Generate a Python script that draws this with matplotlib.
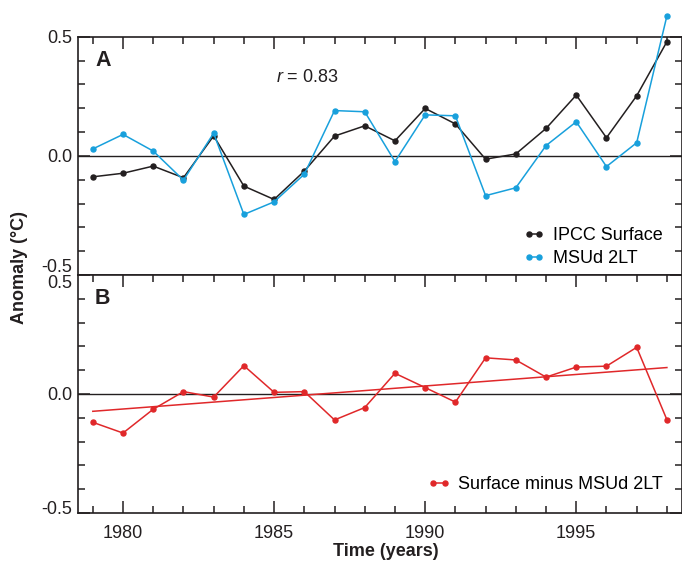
#!/usr/bin/env python3
# Surface vs MSUd 2LT temperature anomalies, 1979-1998 (two stacked panels)

import numpy as np
import matplotlib
matplotlib.use("Agg")
import matplotlib.pyplot as plt
from matplotlib.ticker import MultipleLocator
from matplotlib.transforms import blended_transform_factory, offset_copy

plt.rcParams['font.family'] = ['Liberation Sans', 'DejaVu Sans']
plt.rcParams['mathtext.fontset'] = 'custom'
plt.rcParams['mathtext.rm'] = 'Liberation Sans'
plt.rcParams['mathtext.it'] = 'Liberation Sans:italic'

## data
years = list(range(1979, 1999))
ipcc_surface = [-0.088, -0.073, -0.043, -0.092, 0.084, -0.127, -0.183, -0.064, 0.083, 0.126,
                0.063, 0.199, 0.134, -0.014, 0.008, 0.115, 0.255, 0.076, 0.252, 0.479]
msud_2lt = [0.029, 0.090, 0.020, -0.102, 0.095, -0.246, -0.193, -0.077, 0.190, 0.185,
            -0.024, 0.172, 0.168, -0.167, -0.134, 0.043, 0.143, -0.045, 0.055, 0.587]
surface_minus_msu = [-0.119, -0.164, -0.064, 0.010, -0.013, 0.119, 0.007, 0.010, -0.109, -0.057,
                     0.087, 0.027, -0.034, 0.152, 0.143, 0.071, 0.113, 0.117, 0.196, -0.108]
x_ticks = [1980, 1985, 1990, 1995]
y_ticks = [-0.5, 0.0, 0.5]

black = '#231f20'
blue = '#18a0dc'
red = '#e0282a'

W, H = 682, 564
fig = plt.figure(figsize=(W / 100, H / 100), dpi=100)

left = 77.7 / W
width = 1.0 - left
ax1 = fig.add_axes([left, 1 - 275 / H, width, (275 - 36.7) / H])
ax2 = fig.add_axes([left, 1 - 513 / H, width, (513 - 275) / H])

for ax in (ax1, ax2):
    ax.set_xlim(1978.5, 1998.5)
    ax.set_ylim(-0.5, 0.5)
    ax.axhline(0, color=black, lw=1.0, zorder=1)
    for s in ax.spines.values():
        s.set_linewidth(1.2)
        s.set_color(black)
    ax.xaxis.set_major_locator(MultipleLocator(5))
    ax.xaxis.set_minor_locator(MultipleLocator(1))
    ax.yaxis.set_minor_locator(MultipleLocator(0.1))
    ax.set_yticks(y_ticks)
    ax.set_yticklabels(['', '0.0', ''])
    ax.tick_params(axis='both', which='both', direction='in', color=black, width=1.1,
                   labelsize=13, labelcolor=black)
    ax.tick_params(axis='both', which='major', length=8.5)
    ax.tick_params(axis='both', which='minor', length=5)
    ax.tick_params(axis='y', which='both', left=True, right=True, pad=4)

# top panel: ticks only on top edge
ax1.tick_params(axis='x', which='both', top=True, bottom=False, labelbottom=False)
# bottom panel: ticks top and bottom, labels bottom
ax2.tick_params(axis='x', which='both', top=True, bottom=True, pad=8.5)
ax2.set_xticks(x_ticks)

# y tick labels at the shared edge are nudged apart
def ylabel_at(ax, val, txt, dy):
    tr = blended_transform_factory(ax.transAxes, ax.transData)
    tr = offset_copy(tr, fig=fig, x=-5.8, y=dy, units='dots')
    ax.text(0, val, txt, transform=tr, ha='right', va='center_baseline', fontsize=13, color=black)

ylabel_at(ax1, 0.5, '0.5', 0)
ylabel_at(ax1, -0.5, '-0.5', 10)
ylabel_at(ax2, 0.5, '0.5', -6)
ylabel_at(ax2, -0.5, '-0.5', 5)

# panel A
ax1.plot(years, ipcc_surface, color=black, lw=1.1, marker='o', ms=3.6, label='IPCC Surface',
         zorder=3, clip_on=False)
ax1.plot(years, msud_2lt, color=blue, lw=1.1, marker='o', ms=3.6, label='MSUd 2LT',
         zorder=3, clip_on=False)
fig.text(95 / W, 1 - 61 / H, 'A', fontsize=15.5, fontweight='bold', color=black, va='center', ha='left')
fig.text(276 / W, 1 - 78 / H, '$r$ = 0.83', fontsize=13, color=black, va='center', ha='left')
ax1.legend(loc='lower right', bbox_to_anchor=(0.9686, 0.034), frameon=False, fontsize=13,
           handlelength=1.17, handletextpad=0.5, borderpad=0, borderaxespad=0,
           labelspacing=0.3, numpoints=2)

# panel B
ax2.plot(years, surface_minus_msu, color=red, lw=1.1, marker='o', ms=3.6,
         label='Surface minus MSUd 2LT', zorder=3)
coef = np.polyfit(years, surface_minus_msu, 1)
ax2.plot([years[0], years[-1]], np.polyval(coef, [years[0], years[-1]]), color=red, lw=1.1, zorder=3)
fig.text(95 / W, 1 - 298 / H, 'B', fontsize=15.5, fontweight='bold', color=black, va='center', ha='left')
ax2.legend(loc='lower right', bbox_to_anchor=(0.9686, 0.084), frameon=False, fontsize=13,
           handlelength=1.25, handletextpad=0.45, borderpad=0, borderaxespad=0, numpoints=2)

fig.text(386 / W, 1 - 552 / H, 'Time (years)', fontsize=13, fontweight='bold', color=black,
         ha='center', va='center')
fig.text(20 / W, 1 - 268 / H, 'Anomaly (\u00b0C)', fontsize=13, fontweight='bold', color=black,
         ha='center', va='center', rotation=90)

plt.savefig('out.png', dpi=100)
